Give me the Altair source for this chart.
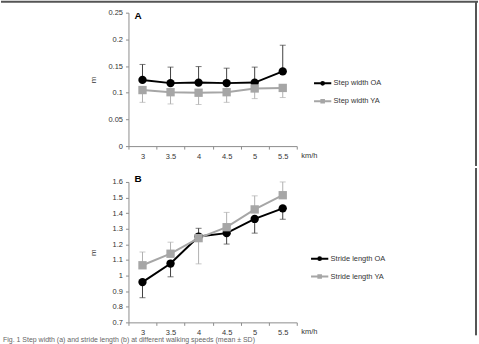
import altair as alt
import pandas as pd

speeds = ["3", "3.5", "4", "4.5", "5", "5.5"]

step_series = ["Step width OA", "Step width YA"]
step_oa = [0.124, 0.118, 0.119, 0.118, 0.119, 0.140]
step_oa_err = [0.153, 0.148, 0.149, 0.146, 0.148, 0.189]
step_ya = [0.105, 0.101, 0.100, 0.101, 0.108, 0.109]
step_ya_err = [0.082, 0.079, 0.078, 0.082, 0.089, 0.091]

stride_series = ["Stride length OA", "Stride length YA"]
stride_oa = [0.958, 1.077, 1.250, 1.272, 1.363, 1.431]
stride_oa_err = [0.858, 0.992, 1.303, 1.202, 1.272, 1.361]
stride_ya = [1.066, 1.140, 1.240, 1.310, 1.424, 1.515]
stride_ya_err = [1.151, 1.214, 1.075, 1.405, 1.511, 1.600]

step_ticks = [0, 0.05, 0.1, 0.15, 0.2, 0.25]
stride_ticks = [0.7, 0.8, 0.9, 1.0, 1.1, 1.2, 1.3, 1.4, 1.5, 1.6]

caption = "Fig. 1 Step width (a) and stride length (b) at different walking speeds (mean \u00b1 SD)"

FONT = "Liberation Sans"
W = 169
HA = 134
HB = 141

CIRCLE_SYM = "M-1,0L1,0M-0.16,0A0.16,0.16 0 1,0 0.16,0A0.16,0.16 0 1,0 -0.16,0Z"
SQUARE_SYM = "M-1,0L1,0M-0.15,-0.15L0.15,-0.15L0.15,0.15L-0.15,0.15Z"


def make_df(names, means, errs):
    recs = []
    for name, m, e in zip(names, means, errs):
        for s, v, ev in zip(speeds, m, e):
            recs.append({"speed": s, "value": v, "err": ev, "series": name, "grp": name})
    return pd.DataFrame(recs)


def panel(names, means, errs, ticks, domain, h, letter, title_off, leg_x, leg_y,
          rule_top, rule_bottom, top_line):
    df = make_df(names, means, errs)
    xenc = alt.X("speed:N", sort=speeds,
                 scale=alt.Scale(type="band", paddingInner=0, paddingOuter=0),
                 axis=alt.Axis(title="km/h", labelAngle=0, tickBand="extent",
                               titleX=W + 4, titleY=9, titleAlign="left",
                               titleBaseline="middle", titleFontWeight="normal",
                               titleFontSize=7.5, titleColor="#333", titleFont=FONT))
    yscale = alt.Scale(domain=domain, nice=False, zero=False)
    yaxis = alt.Axis(title="m", values=ticks, format="~g", labelOverlap=False,
                     titleX=-31, titleY=h / 2, titleFontWeight="normal",
                     titleFontSize=8, titleColor="#333", titleFont=FONT)
    yenc = alt.Y("value:Q", scale=yscale, axis=yaxis)
    yerr = alt.Y("err:Q", scale=yscale, axis=yaxis)
    oa_name = names[0]
    cscale = alt.Scale(domain=names, range=["#000000", "#a6a6a6"])
    color = alt.Color("series:N", sort=names, scale=cscale,
                      legend=alt.Legend(
                          title=None, orient="none", legendX=leg_x, legendY=leg_y,
                          labelFont=FONT, labelFontSize=7.5, labelColor="#333",
                          symbolType=alt.ExprRef(expr="datum.value === '%s' ? '%s' : '%s'" % (oa_name, CIRCLE_SYM, SQUARE_SYM)),
                          symbolFillColor=alt.ExprRef(expr="datum.value === '%s' ? '#000000' : '#a6a6a6'" % oa_name),
                          symbolSize=300, symbolStrokeWidth=2,
                          rowPadding=2, labelOffset=1,
                      ))
    errscale = alt.Scale(domain=names, range=["#404040", "#b0b0b0"])
    base = alt.Chart(df)
    err_rule = base.mark_rule(strokeWidth=1).encode(
        x=xenc, y=yenc, y2=alt.Y2("err:Q"),
        color=alt.Color("grp:N", scale=errscale, legend=None))
    err_cap = base.mark_tick(thickness=1, size=6, filled=True).encode(
        x=xenc, y=yerr,
        color=alt.Color("grp:N", scale=errscale, legend=None))
    line = base.mark_line(strokeWidth=2).encode(x=xenc, y=yenc, color=color)
    pts = base.mark_point(filled=True, opacity=1, size=70).encode(
        x=xenc, y=yenc,
        color=alt.Color("series:N", sort=names, scale=cscale, legend=None),
        shape=alt.Shape("grp:N", scale=alt.Scale(domain=names, range=["circle", "square"]), legend=None))
    deco = pd.DataFrame({"k": [0]})
    layers = [err_rule, err_cap, line, pts]
    layers.append(alt.Chart(deco).mark_rule(color="#555", strokeWidth=2).encode(
        x=alt.value(349), y=alt.value(rule_top), y2=alt.value(rule_bottom)))
    if top_line:
        layers.append(alt.Chart(deco).mark_rule(color="#555", strokeWidth=2).encode(
            x=alt.value(-128), x2=alt.value(351), y=alt.value(rule_top)))
    return alt.layer(*layers).resolve_scale(color="independent").properties(
        width=W, height=h,
        title=alt.TitleParams(letter, anchor="start", frame="group", dx=6, offset=title_off,
                              fontSize=10, font=FONT, fontWeight="bold", color="#000",
                              baseline="top"))


pa = panel(step_series, [step_oa, step_ya], [step_oa_err, step_ya_err], step_ticks,
           [0, 0.25], HA, "A", -20, 185, 61, -11, HA + 20, True)
pb = panel(stride_series, [stride_oa, stride_ya], [stride_oa_err, stride_ya_err], stride_ticks,
           [0.7, 1.6], HB, "B", -17, 182, 67, -14, HB + 13, False)

chart = alt.vconcat(pa, pb, spacing=0).properties(
    padding=0,
    title=alt.TitleParams(caption, orient="bottom", anchor="start", dx=3, offset=0,
                          fontSize=7, font=FONT, fontWeight="normal", color="#666"),
).configure_view(stroke=None).configure_axis(
    domainColor="#8c8c8c", tickColor="#8c8c8c", tickSize=3, labelFont=FONT,
    labelFontSize=7.5, labelColor="#333", labelPadding=3, grid=False,
).configure_title(font=FONT)

chart.save("out.html", embed_options={"renderer": "svg", "actions": False})
